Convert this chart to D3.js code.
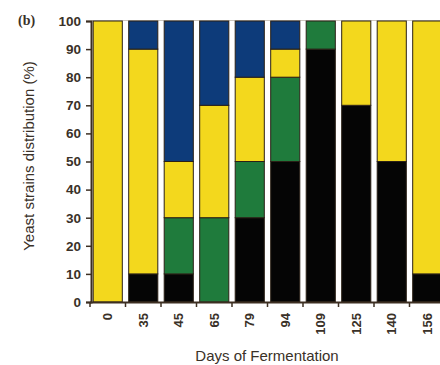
<!DOCTYPE html>
<html>
<head>
<meta charset="utf-8">
<script src="https://cdn.jsdelivr.net/npm/d3@7"></script>
<style>
  html, body { margin: 0; padding: 0; background: #fff; overflow: hidden; }
  svg { display: block; }
  text { font-family: "Liberation Sans", Arial, sans-serif; fill: #3a3128; }
</style>
</head>
<body>
<svg id="chart" width="440" height="365"></svg>
<script>
// Fermentation days (x categories)
const days = ["0", "35", "45", "65", "79", "94", "109", "125", "140", "156"];

// Share of each yeast strain group per sampling day (%), bottom to top
const blackStrain  = [0, 10, 10, 0, 30, 50, 90, 70, 50, 10];
const greenStrain  = [0, 0, 20, 30, 20, 30, 10, 0, 0, 0];
const yellowStrain = [100, 80, 20, 40, 30, 10, 0, 30, 50, 90];
const blueStrain   = [0, 10, 50, 30, 20, 10, 0, 0, 0, 0];

const yTicks = [0, 10, 20, 30, 40, 50, 60, 70, 80, 90, 100];

const seriesKeys = ["black", "green", "yellow", "blue"];
const colors = { black: "#050505", green: "#1f7b3c", yellow: "#f3d81d", blue: "#0d3b7a" };

const rows = days.map((d, i) => ({
  day: d,
  black: blackStrain[i],
  green: greenStrain[i],
  yellow: yellowStrain[i],
  blue: blueStrain[i]
}));

const svg = d3.select("#chart");
const axisColor = "#3d2f22";

// the plot runs slightly past the right edge of the page
const x = d3.scaleBand().domain(days).range([90, 445]).paddingInner(0.18).paddingOuter(0.09);
const y = d3.scaleLinear().domain([0, 100]).range([302, 21]);

const stacked = d3.stack().keys(seriesKeys)(rows);

// light frame line along the top of the plot
svg.append("line")
  .attr("x1", 91).attr("x2", 440)
  .attr("y1", y(100) - 0.5).attr("y2", y(100) - 0.5)
  .attr("stroke", "#cfc8bf").attr("stroke-width", 1);

// stacked bars
svg.append("g").selectAll("g")
  .data(stacked)
  .join("g")
  .attr("fill", d => colors[d.key])
  .selectAll("rect")
  .data(d => d.filter(s => s[1] - s[0] > 0))
  .join("rect")
  .attr("x", d => x(d.data.day))
  .attr("width", x.bandwidth())
  .attr("y", d => y(d[1]))
  .attr("height", d => y(d[0]) - y(d[1]))
  .attr("stroke", "#2a2016")
  .attr("stroke-width", 1);

// y axis
const yAxis = svg.append("g")
  .attr("transform", "translate(91,0)")
  .call(d3.axisLeft(y).tickValues(yTicks).tickSize(5).tickPadding(5));
yAxis.select(".domain").attr("stroke", axisColor).attr("stroke-width", 2);
yAxis.selectAll(".tick line").attr("stroke", axisColor).attr("stroke-width", 1.5);
yAxis.selectAll(".tick text")
  .style("font-size", "13.5px").style("font-weight", "bold").attr("fill", "#3a3128");

// x axis: ticks at category boundaries
const step = x.step();
const boundaries = d3.range(days.length).map(i => x(days[i]) - (step - x.bandwidth()) / 2);
const xAxisG = svg.append("g");
xAxisG.append("line")
  .attr("x1", 90).attr("x2", 440)
  .attr("y1", y(0) + 0.5).attr("y2", y(0) + 0.5)
  .attr("stroke", axisColor).attr("stroke-width", 2);
xAxisG.selectAll("line.tk")
  .data(boundaries)
  .join("line")
  .attr("class", "tk")
  .attr("x1", d => d).attr("x2", d => d)
  .attr("y1", y(0)).attr("y2", y(0) + 5)
  .attr("stroke", axisColor).attr("stroke-width", 1.5);
xAxisG.selectAll("text")
  .data(days)
  .join("text")
  .attr("transform", d => `translate(${x(d) + x.bandwidth() / 2},313) rotate(-90)`)
  .attr("text-anchor", "end")
  .attr("dy", "0.35em")
  .style("font-size", "13px").style("font-weight", "bold")
  .text(d => d);

// axis titles
svg.append("text")
  .attr("transform", "translate(34,156) rotate(-90)")
  .attr("text-anchor", "middle")
  .style("font-size", "15px")
  .text("Yeast strains distribution (%)");

svg.append("text")
  .attr("x", 267).attr("y", 361)
  .attr("text-anchor", "middle")
  .style("font-size", "15px")
  .text("Days of Fermentation");

// panel label
svg.append("text")
  .attr("x", 18).attr("y", 25)
  .style("font-family", "'Liberation Serif', 'Times New Roman', serif")
  .style("font-size", "14px").style("font-weight", "bold")
  .text("(b)");
</script>
</body>
</html>
